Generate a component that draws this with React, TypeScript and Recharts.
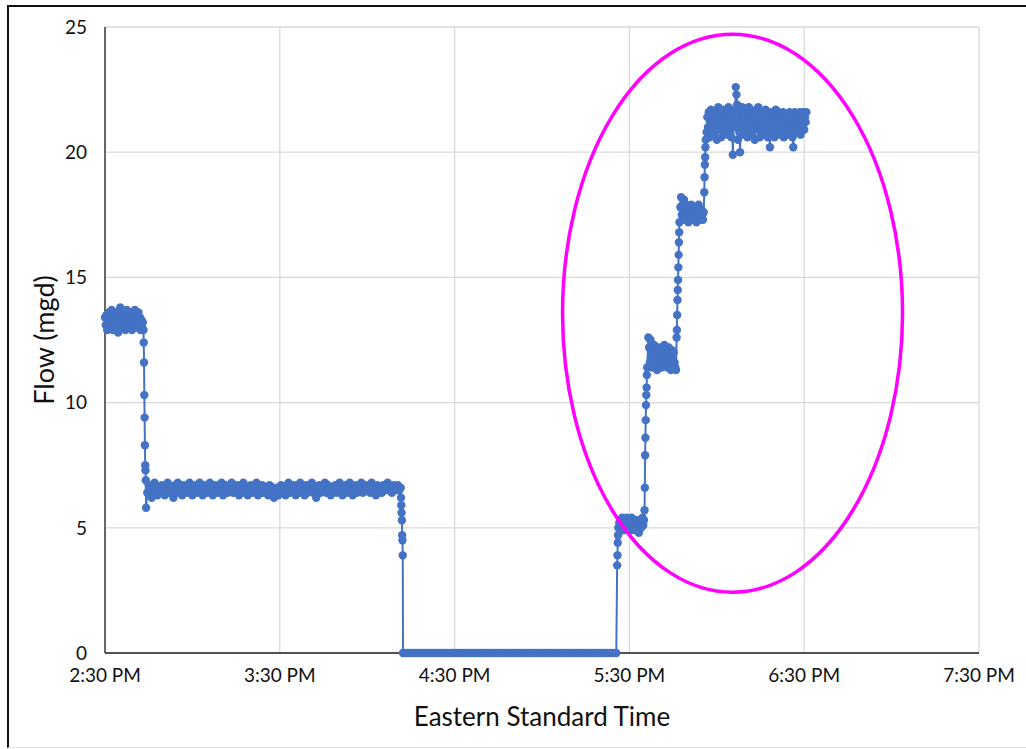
import React from 'react';
import {
  LineChart,
  Line,
  XAxis,
  YAxis,
  CartesianGrid,
  ReferenceDot,
} from 'recharts';

// minutes after 2:30 PM on the x axis
const xTicks = [0, 60, 120, 180, 240, 300];
const xTickLabels = ['2:30 PM', '3:30 PM', '4:30 PM', '5:30 PM', '6:30 PM', '7:30 PM'];
const yTicks = [0, 5, 10, 15, 20, 25];

// 2:30 - 2:43 PM, every 15 s
const flowHigh = [
  13.4, 13.1, 13.5, 12.9, 13.3, 13.6, 13.2, 13.0, 13.4, 13.7,
  13.1, 12.9, 13.5, 13.3, 13.6, 13.0, 13.4, 13.2, 12.8, 13.5,
  13.3, 13.8, 13.1, 13.4, 13.0, 13.6, 13.2, 13.5, 12.9, 13.3,
  13.7, 13.1, 13.4, 13.0, 13.5, 13.2, 13.6, 12.9, 13.3, 13.4,
  13.1, 13.7, 13.2, 13.0, 13.5, 13.3, 13.6, 13.1, 13.4, 12.9,
  13.3, 13.0, 13.2,
];
const dropOneTimes = [13.2, 13.3, 13.4, 13.5, 13.6, 13.7, 13.8, 13.9, 14.0, 14.1];
const dropOneFlow = [12.9, 12.4, 11.6, 10.3, 9.4, 8.3, 7.5, 7.3, 6.9, 5.8];

// 2:44 - 4:11 PM, every 30 s
const flowMid = [
  6.4, 6.7, 6.5, 6.2, 6.6, 6.8, 6.5, 6.3, 6.6, 6.4,
  6.7, 6.5, 6.3, 6.6, 6.8, 6.4, 6.6, 6.5, 6.2, 6.7,
  6.5, 6.8, 6.4, 6.6, 6.3, 6.7, 6.5, 6.6, 6.4, 6.8,
  6.6, 6.3, 6.5, 6.7, 6.4, 6.6, 6.8, 6.5, 6.3, 6.6,
  6.7, 6.4, 6.5, 6.8, 6.6, 6.3, 6.5, 6.7, 6.4, 6.6,
  6.5, 6.8, 6.3, 6.6, 6.7, 6.4, 6.5, 6.6, 6.8, 6.4,
  6.6, 6.5, 6.7, 6.3, 6.6, 6.4, 6.8, 6.5, 6.6, 6.3,
  6.5, 6.7, 6.4, 6.6, 6.5, 6.8, 6.3, 6.6, 6.4, 6.7,
  6.4, 6.6, 6.5, 6.3, 6.7, 6.5, 6.6, 6.2, 6.5, 6.6,
  6.3, 6.5, 6.7, 6.4, 6.6, 6.3, 6.5, 6.8, 6.4, 6.6,
  6.5, 6.7, 6.3, 6.6, 6.4, 6.8, 6.5, 6.6, 6.3, 6.7,
  6.4, 6.6, 6.5, 6.8, 6.4, 6.6, 6.2, 6.5, 6.7, 6.4,
  6.6, 6.5, 6.8, 6.4, 6.7, 6.5, 6.3, 6.6, 6.5, 6.7,
  6.4, 6.6, 6.8, 6.5, 6.3, 6.6, 6.7, 6.4, 6.5, 6.8,
  6.5, 6.3, 6.6, 6.7, 6.4, 6.6, 6.5, 6.8, 6.4, 6.6,
  6.7, 6.5, 6.6, 6.4, 6.8, 6.5, 6.6, 6.3, 6.7, 6.5,
  6.6, 6.4, 6.7, 6.5, 6.6, 6.8, 6.5, 6.6, 6.4, 6.7,
  6.5, 6.6, 6.7, 6.5, 6.6,
];
const dropTwoTimes = [101.6, 101.7, 101.8, 101.9, 102.0, 102.1, 102.2, 102.3];
const dropTwoFlow = [6.2, 5.9, 5.6, 5.3, 4.7, 4.5, 3.9, 0];

// pump off, 4:12 - 5:25 PM, every minute
const flowOff = [
  0, 0, 0, 0, 0, 0, 0, 0, 0, 0, 0, 0, 0, 0, 0, 0, 0, 0, 0, 0, 0, 0, 0, 0, 0,
  0, 0, 0, 0, 0, 0, 0, 0, 0, 0, 0, 0, 0, 0, 0, 0, 0, 0, 0, 0, 0, 0, 0, 0, 0,
  0, 0, 0, 0, 0, 0, 0, 0, 0, 0, 0, 0, 0, 0, 0, 0, 0, 0, 0, 0, 0, 0, 0, 0,
];
const riseOneTimes = [175.8, 175.9, 176.0, 176.1, 176.2];
const riseOneFlow = [3.5, 3.9, 4.4, 4.7, 5.0];

// step test, every 15 s
const flowStep1 = [
  5.2, 5.0, 5.3, 5.1, 5.4, 5.2, 4.9, 5.3, 5.1, 5.2,
  5.4, 5.0, 5.2, 5.3, 5.1, 4.9, 5.2, 5.4, 5.0, 5.1,
  5.3, 5.2, 4.9, 5.1, 5.3, 5.0, 5.2, 4.8, 5.1, 5.3,
  5.0, 5.2, 5.4, 5.1, 5.3,
];
const riseTwoTimes = [185.2, 185.3, 185.4, 185.5, 185.6, 185.7, 185.8, 185.9, 186.0, 186.1];
const riseTwoFlow = [5.7, 6.6, 7.9, 8.6, 9.3, 9.9, 10.3, 10.6, 11.1, 11.4];
const flowStep2 = [
  12.6, 12.2, 11.6, 12.5, 11.9, 11.4, 12.1, 11.7, 12.3, 11.5,
  11.9, 12.2, 11.3, 11.8, 12.0, 11.5, 12.2, 11.7, 11.4, 12.1,
  11.8, 11.6, 12.3, 11.5, 11.9, 12.0, 11.4, 11.7, 12.2, 11.6,
  11.9, 11.3, 12.1, 11.7, 11.5, 12.0, 11.6, 11.4, 11.3,
];
const riseThreeTimes = [196.2, 196.3, 196.4, 196.5, 196.6, 196.7, 196.8, 196.9, 197.0, 197.1, 197.2];
const riseThreeFlow = [12.6, 12.9, 13.5, 14.1, 14.5, 14.9, 15.4, 15.9, 16.4, 16.8, 17.2];
const flowStep3 = [
  17.8, 18.2, 17.5, 17.9, 17.3, 18.1, 17.6, 17.4, 17.9, 17.5,
  17.7, 17.2, 17.8, 17.6, 17.4, 17.9, 17.3, 17.7, 17.5, 17.8,
  17.4, 17.6, 17.2, 17.7, 17.5, 17.9, 17.3, 17.6, 17.4, 17.7,
  17.5, 17.3, 17.6,
];
const riseFourTimes = [205.7, 205.8, 205.9, 206.0, 206.1, 206.2];
const riseFourFlow = [18.4, 19.0, 19.5, 19.8, 20.2, 20.5];
const flowStep4 = [
  20.8, 21.4, 21.0, 21.6, 20.6, 21.2, 21.7, 20.9, 21.3, 21.5,
  20.7, 21.1, 21.6, 21.0, 20.5, 21.4, 21.8, 20.9, 21.2, 21.5,
  20.6, 21.3, 21.7, 21.0, 20.8, 21.5, 21.1, 21.6, 20.7, 21.3,
  21.8, 20.9, 21.2, 21.5, 20.6, 21.4, 19.9, 21.0, 21.7, 21.2,
  22.6, 22.3, 21.9, 20.5, 21.4, 20.8, 20.0, 21.6, 21.1, 21.8,
  20.7, 21.3, 21.5, 20.9, 21.7, 21.1, 20.6, 21.4, 21.8, 20.8,
  21.2, 21.5, 20.7, 21.3, 21.6, 21.0, 20.5, 21.4, 21.7, 20.9,
  21.3, 21.8, 21.0, 20.6, 21.5, 21.2, 20.8, 21.6, 21.1, 20.7,
  21.4, 21.7, 20.9, 21.2, 20.6, 21.5, 21.0, 20.2, 21.3, 21.6,
  20.8, 21.4, 21.1, 20.6, 21.5, 21.7, 20.9, 21.2, 21.0, 21.6,
  20.7, 21.3, 21.5, 20.9, 21.1, 21.6, 20.6, 21.4, 21.2, 20.8,
  21.5, 21.0, 21.3, 20.7, 21.6, 21.1, 20.9, 21.4, 20.6, 20.2,
  21.3, 21.6, 20.8, 21.2, 21.5, 20.9, 21.4, 21.0, 21.6, 20.7,
  21.3, 21.5, 21.0, 21.6, 20.9, 21.4, 21.2, 21.6,
];

type Pt = { t: number; flow: number };

const sampled = (start: number, step: number, values: number[]): Pt[] =>
  values.map((flow, i) => ({ t: start + i * step, flow }));
const timed = (times: number[], values: number[]): Pt[] =>
  values.map((flow, i) => ({ t: times[i], flow }));

const data: Pt[] = [
  ...sampled(0, 0.25, flowHigh),
  ...timed(dropOneTimes, dropOneFlow),
  ...sampled(14.5, 0.5, flowMid),
  ...timed(dropTwoTimes, dropTwoFlow),
  ...sampled(102.5, 1, flowOff),
  ...timed(riseOneTimes, riseOneFlow),
  ...sampled(176.5, 0.25, flowStep1),
  ...timed(riseTwoTimes, riseTwoFlow),
  ...sampled(186.5, 0.25, flowStep2),
  ...timed(riseThreeTimes, riseThreeFlow),
  ...sampled(197.5, 0.25, flowStep3),
  ...timed(riseFourTimes, riseFourFlow),
  ...sampled(206.5, 0.25, flowStep4),
];

const FONT = 'Lato, "Open Sans", sans-serif';
const BLUE = '#4472C4';

const YTitle = (props: any) => {
  const vb = props.viewBox || { x: 0, y: 27, width: 105, height: 626 };
  const x = vb.x + 43;
  const y = vb.y + vb.height / 2;
  return (
    <text
      x={x}
      y={y}
      transform={`rotate(-90, ${x}, ${y})`}
      textAnchor="middle"
      dominantBaseline="central"
      fontFamily={FONT}
      fontSize={27}
      fill="#111"
    >
      Flow (mgd)
    </text>
  );
};

const Ellipse = (props: any) => (
  <ellipse cx={props.cx} cy={props.cy} rx={170} ry={279} fill="none" stroke="#FF00FF" strokeWidth={3.5} />
);

export default function App() {
  return (
    <div style={{ position: 'absolute', left: 0, top: 0, width: 1026, height: 749, overflow: 'hidden', background: '#fff' }}>
      <div
        style={{
          position: 'absolute',
          left: 7,
          top: 5,
          width: 1040,
          height: 740,
          borderLeft: '2px solid #111',
          borderTop: '2px solid #111',
          borderBottom: '1px solid #e3e3e3',
        }}
      />
      <div style={{ position: 'absolute', left: 0, top: 0 }}>
        <LineChart width={1026} height={749} data={data} margin={{ top: 27, right: 47, bottom: 0, left: 0 }}>
          <CartesianGrid stroke="#d9d9d9" strokeWidth={1.3} />
          <XAxis
            dataKey="t"
            type="number"
            domain={[0, 300]}
            ticks={xTicks}
            tickFormatter={(v: number) => xTickLabels[xTicks.indexOf(v)]}
            height={96}
            tickLine={false}
            tickSize={0}
            tickMargin={16}
            stroke="#222"
            strokeWidth={1.3}
            tick={{ fill: '#111', fontSize: 19, fontFamily: FONT }}
            label={{
              value: 'Eastern Standard Time',
              position: 'insideBottom',
              offset: 23,
              fill: '#111',
              fontSize: 26,
              fontFamily: FONT,
            }}
          />
          <YAxis
            type="number"
            domain={[0, 25]}
            ticks={yTicks}
            width={105}
            tickLine={false}
            tickSize={0}
            tickMargin={18}
            stroke="#222"
            strokeWidth={1.3}
            tick={{ fill: '#111', fontSize: 19, fontFamily: FONT }}
            label={{ content: YTitle }}
          />
          <Line
            type="linear"
            dataKey="flow"
            stroke={BLUE}
            strokeWidth={2}
            dot={{ r: 4.2, fill: BLUE, stroke: BLUE, strokeWidth: 0 }}
            activeDot={false}
            isAnimationActive={false}
          />
          <ReferenceDot x={215.4} y={13.57} ifOverflow="visible" shape={Ellipse} />
        </LineChart>
      </div>
    </div>
  );
}
